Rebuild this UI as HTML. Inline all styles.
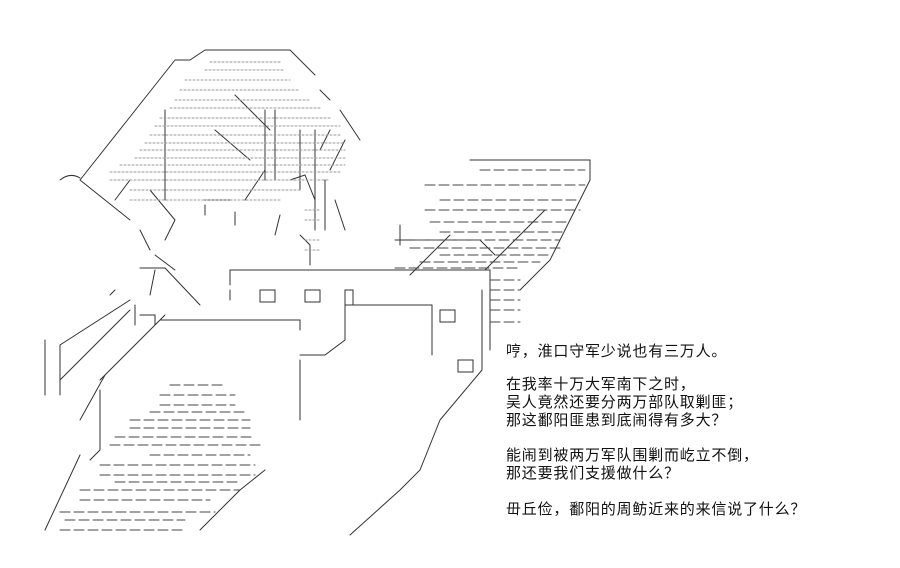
<!DOCTYPE html>
<html><head><meta charset="utf-8"><style>
body{margin:0;background:#fff;width:900px;height:568px;overflow:hidden;position:relative}
.t{position:absolute;left:506px;font:15px "Liberation Sans","Noto Sans CJK SC",sans-serif;color:#111;line-height:18px;white-space:pre;letter-spacing:0.8px}
svg{position:absolute;left:0;top:0}
</style></head><body>
<svg width="900" height="568" viewBox="0 0 900 568" fill="none" stroke-linecap="round">
<g stroke="#333" stroke-width="1">
<path d="M205 50H290M205 50L190 60H175M175 60L80 180M290 50L315 75M320 90L330 100M340 110L360 140M80 180L130 220"/>
<path d="M60 180Q70 172 80 178"/>
<path d="M130 180L115 200M165 110V200M265 110V180M275 110V180M300 130V190M315 130V200M330 130L320 150M345 140L330 170"/>
<path d="M235 95L270 130M215 130L250 160M265 170L245 200M290 180L305 175L315 200V230M325 180V230M335 200L345 230M150 190L175 220M175 220L165 240"/>
<path d="M205 200H230M205 205V215M235 212V225M140 230L150 250M155 255L175 270M280 215L275 235M300 235L310 245V265"/>
<path d="M140 268H165M155 270L150 295M165 268L200 305M115 290L110 295"/>
<path d="M230 270H355M355 270H490M230 270V285M230 290V300M260 290h15v12h-15zM305 290h15v12h-15zM345 290h8v15h-8zM350 305H432V355M345 305V340L325 355H300M130 300L60 345V395M45 340V395M130 310L60 380M165 315L100 380M135 305V325M140 315h15v10M160 320H300V330M440 310h15v12h-15zM458 360h15v12h-15zM485 270L545 210"/>
<path d="M490 270V350M482 290V370M482 370L440 420M440 420L420 470L400 490L350 535M300 360V420"/>
<path d="M100 390V450M105 375L80 420M100 450L90 460M80 455L45 530"/>
<path d="M470 160H590V180M410 275L450 235M395 240H480L495 255M590 180L550 260L520 290M400 225V245"/>
<path d="M240 490L200 530M265 470L240 490"/>
</g>
<g stroke="#444" stroke-width="1" stroke-dasharray="10 4">
<path d="M480 170H585M425 185H585M440 200H580M425 210H580M430 222H570M440 232H565M415 240H560M410 248H560M440 255H550M420 262H540M395 268H520M490 280H520M490 290H520M490 300H520M490 310H520M490 322H520"/>
<path d="M170 385H225M160 395H235M160 405H235M150 412H245M130 420H250M130 428H250M115 437H255M110 445H260M150 455H250M100 465H255M100 475H255M115 482H240M80 490H240M80 500H210M60 512H215M65 520H185M60 530H185"/>
</g>
<g stroke="#999" stroke-width="1" stroke-dasharray="2 2">
<path d="M210 62H280M205 70H285M185 80H290M180 90H300M175 100H310M170 108H320M160 118H330M155 126H340M150 135H340M145 143H345M140 150H345M135 158H345M120 165H345M110 172H340M110 180H330M130 190H300M130 200H280M305 210H320M305 220H320M305 240H320M305 250H320"/>
</g>
</svg>
<div class="t" style="top:343px">哼，淮口守军少说也有三万人。</div>
<div class="t" style="top:376px">在我率十万大军南下之时，
吴人竟然还要分两万部队取剿匪；
那这鄱阳匪患到底闹得有多大？</div>
<div class="t" style="top:447px">能闹到被两万军队围剿而屹立不倒，
那还要我们支援做什么？</div>
<div class="t" style="top:501px">毌丘俭，鄱阳的周鲂近来的来信说了什么？</div>
</body></html>
